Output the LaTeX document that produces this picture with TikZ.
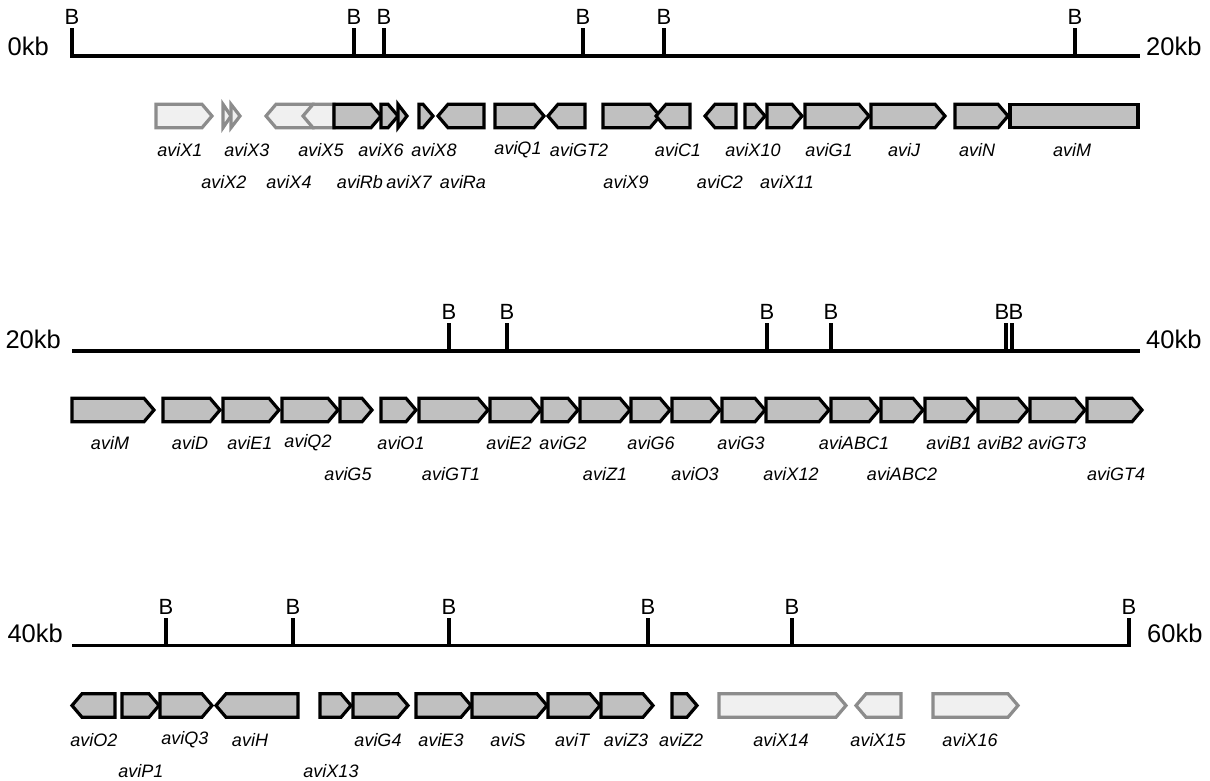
\documentclass[tikz,border=0pt]{standalone}
\usepackage{fontspec}
\setmainfont{Liberation Sans}
\definecolor{genefill}{HTML}{C0C0C0}
\definecolor{genelight}{HTML}{F0F0F0}
\definecolor{geneedge}{HTML}{8C8C8C}
\tikzset{
  blk/.style={draw=black, fill=genefill, line width=3.2pt, line join=miter},
  gry/.style={draw=geneedge, fill=genelight, line width=3.2pt, line join=miter},
  scl/.style={draw=black, line width=3.2pt},
  lab/.style={inner sep=0pt, font=\fontsize{18}{20}\selectfont\itshape},
  bl/.style={inner sep=0pt, font=\fontsize{22}{24}\selectfont},
  kb/.style={inner sep=0pt, font=\fontsize{25.5}{27}\selectfont},
}
\def\ghh{11.75}
% forward gene: style, x1, x2, yc
\newcommand\GeneF[4]{%
  \pgfmathsetmacro\ghead{min(10,#3-#2)}%
  \draw[#1] (#2,#4-\ghh) -- ({#3-\ghead},#4-\ghh) -- (#3,#4) -- ({#3-\ghead},#4+\ghh) -- (#2,#4+\ghh) -- cycle;}
% reverse gene
\newcommand\GeneR[4]{%
  \pgfmathsetmacro\ghead{min(10,#3-#2)}%
  \draw[#1] (#3,#4-\ghh) -- ({#2+\ghead},#4-\ghh) -- (#2,#4) -- ({#2+\ghead},#4+\ghh) -- (#3,#4+\ghh) -- cycle;}
% forward triangle (head only)
\newcommand\GeneT[4]{%
  \draw[#1] (#2,#4-\ghh) -- (#3,#4) -- (#2,#4+\ghh) -- cycle;}
% plain box
\newcommand\GeneB[4]{%
  \draw[#1] (#2,#4-\ghh) rectangle (#3,#4+\ghh);}
\begin{document}
\begin{tikzpicture}[x=1pt,y=-1pt]
\useasboundingbox (0,0) rectangle (1210,780);

% ---------------- Row 1 : scale ----------------
\coordinate (r1s) at (72,56);
\coordinate (r1e) at (1140,56);
\node[kb, anchor=east] (k0) at (49,46) {0kb};
\node[kb, anchor=west] (k20a) at (1146,46) {20kb};
\node[bl] (r1b0) at (72,17) {B};
\draw[scl] (72,28) -- (r1s) -- (r1e);
\foreach \x/\n in {354/a,384/b,583/c,664/d,1075/e} {
  \coordinate (r1t\n) at (\x,56);
  \node[bl] (r1b\n) at (\x,17) {B};
  \draw[scl] (r1t\n) -- ++(0,-28);
}

% ---------------- Row 1 : genes ----------------
\def\ya{116}
\GeneF{gry}{156}{212}{\ya}
\GeneT{gry}{223}{231}{\ya}
\GeneT{gry}{231}{240}{\ya}
\GeneR{gry}{266}{313}{\ya}
\GeneR{gry}{303}{334}{\ya}
\GeneF{blk}{334}{381}{\ya}
\GeneF{blk}{381}{398}{\ya}
\GeneT{blk}{398}{407}{\ya}
\GeneF{blk}{419}{433}{\ya}
\GeneR{blk}{438}{484}{\ya}
\GeneF{blk}{495}{544}{\ya}
\GeneR{blk}{548}{585}{\ya}
\GeneF{blk}{603}{660}{\ya}
\GeneR{blk}{656}{690}{\ya}
\GeneR{blk}{705}{736}{\ya}
\GeneF{blk}{745}{765}{\ya}
\GeneF{blk}{767}{802}{\ya}
\GeneF{blk}{805}{869}{\ya}
\GeneF{blk}{871}{945}{\ya}
\GeneF{blk}{955}{1008}{\ya}
\GeneB{blk}{1010}{1138}{\ya}

\foreach \x/\t in {180/aviX1,247/aviX3,321/aviX5,381/aviX6,434/aviX8,518/aviQ1,579/aviGT2,678/aviC1,753/aviX10,829/aviG1,904/aviJ,977/aviN,1072/aviM}
  \node[lab] (a1-\t) at (\x,150) {\t};
\foreach \x/\t in {224/aviX2,289/aviX4,360/aviRb,409/aviX7,463/aviRa,626/aviX9,720/aviC2,787/aviX11}
  \node[lab] (a1-\t) at (\x,182) {\t};

% ---------------- Row 2 : scale ----------------
\coordinate (r2s) at (72,351);
\coordinate (r2e) at (1140,351);
\node[kb, anchor=east] (k20b) at (61,339) {20kb};
\node[kb, anchor=west] (k40a) at (1146,339) {40kb};
\draw[scl] (r2s) -- (r2e);
\foreach \x/\n in {449/a,507/b,767/c,831/d,1006/e,1012/f} {
  \coordinate (r2t\n) at (\x,351);
  \draw[scl] (r2t\n) -- ++(0,-28);
}
\node[bl] (r2ba) at (449,312) {B};
\node[bl] (r2bb) at (507,312) {B};
\node[bl] (r2bc) at (767,312) {B};
\node[bl] (r2bd) at (831,312) {B};
\node[bl] (r2be) at (1002,312) {B};
\node[bl] (r2bf) at (1016,312) {B};

% ---------------- Row 2 : genes ----------------
\def\yb{410}
\GeneF{blk}{72}{154}{\yb}
\GeneF{blk}{163}{220}{\yb}
\GeneF{blk}{223}{279}{\yb}
\GeneF{blk}{282}{338}{\yb}
\GeneF{blk}{340}{372}{\yb}
\GeneF{blk}{381}{416}{\yb}
\GeneF{blk}{419}{488}{\yb}
\GeneF{blk}{490}{541}{\yb}
\GeneF{blk}{542}{578}{\yb}
\GeneF{blk}{580}{630}{\yb}
\GeneF{blk}{631}{670}{\yb}
\GeneF{blk}{672}{720}{\yb}
\GeneF{blk}{722}{765}{\yb}
\GeneF{blk}{766}{829}{\yb}
\GeneF{blk}{831}{879}{\yb}
\GeneF{blk}{881}{923}{\yb}
\GeneF{blk}{925}{976}{\yb}
\GeneF{blk}{978}{1028}{\yb}
\GeneF{blk}{1030}{1085}{\yb}
\GeneF{blk}{1087}{1142}{\yb}

\foreach \x/\t in {110/aviM,190/aviD,250/aviE1,308/aviQ2,401/aviO1,509/aviE2,563/aviG2,651/aviG6,741/aviG3,854/aviABC1,949/aviB1,1000/aviB2,1057/aviGT3}
  \node[lab] (a2-\t) at (\x,443) {\t};
\foreach \x/\t in {348/aviG5,451/aviGT1,605/aviZ1,695/aviO3,791/aviX12,902/aviABC2,1116/aviGT4}
  \node[lab] (a2-\t) at (\x,474) {\t};

% ---------------- Row 3 : scale ----------------
\coordinate (r3s) at (72,645.5);
\coordinate (r3e) at (1129,645.5);
\node[kb, anchor=east] (k40b) at (63,633) {40kb};
\node[kb, anchor=west] (k60) at (1147,633) {60kb};
\node[bl] (r3bf) at (1129,607) {B};
\draw[scl] (r3s) -- (r3e) -- (1129,618);
\foreach \x/\n in {166/a,293/b,449/c,648/d,792/e} {
  \coordinate (r3t\n) at (\x,645.5);
  \node[bl] (r3b\n) at (\x,607) {B};
  \draw[scl] (r3t\n) -- ++(0,-27.5);
}

% ---------------- Row 3 : genes ----------------
\def\yc{705.5}
\GeneR{blk}{72}{115}{\yc}
\GeneF{blk}{122}{159}{\yc}
\GeneF{blk}{160}{212}{\yc}
\GeneR{blk}{216}{298}{\yc}
\GeneF{blk}{320}{351}{\yc}
\GeneF{blk}{353}{408}{\yc}
\GeneF{blk}{416}{471}{\yc}
\GeneF{blk}{472}{547}{\yc}
\GeneF{blk}{548}{600}{\yc}
\GeneF{blk}{601}{653}{\yc}
\GeneF{blk}{672}{697}{\yc}
\GeneF{gry}{719}{846}{\yc}
\GeneR{gry}{856}{901}{\yc}
\GeneF{gry}{933}{1018}{\yc}

\foreach \x/\t in {94/aviO2,185/aviQ3,250/aviH,378/aviG4,441/aviE3,508/aviS,572/aviT,626/aviZ3,681/aviZ2,781/aviX14,878/aviX15,970/aviX16}
  \node[lab] (a3-\t) at (\x,740) {\t};
\foreach \x/\t in {141/aviP1,331/aviX13}
  \node[lab] (a3-\t) at (\x,771) {\t};
\end{tikzpicture}
\end{document}
